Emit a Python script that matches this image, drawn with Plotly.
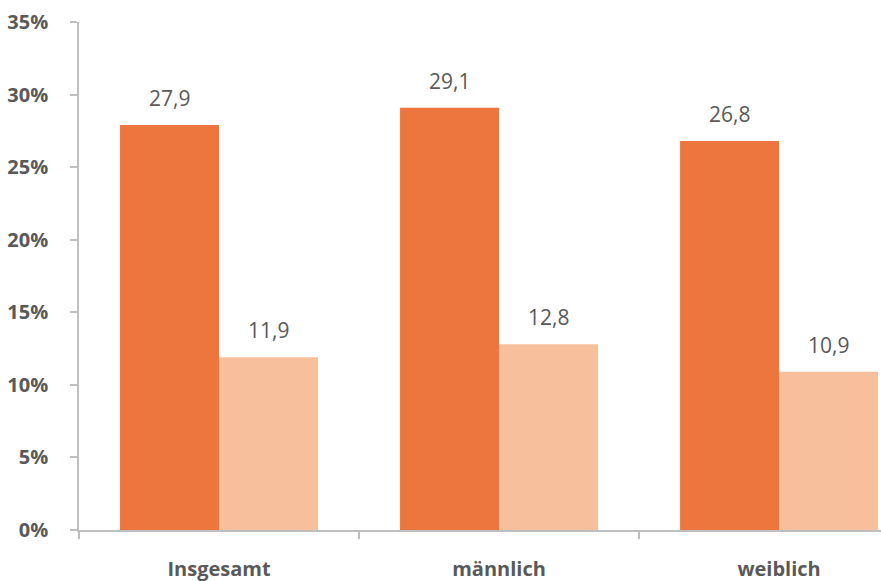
import plotly.graph_objects as go

categories = ["Insgesamt", "männlich", "weiblich"]
series_a = [27.9, 29.1, 26.8]
series_b = [11.9, 12.8, 10.9]
y_ticks = [0, 5, 10, 15, 20, 25, 30, 35]

col_a = "#ED763E"
col_b = "#F8BF9D"
grey = "#595959"
axis_grey = "#BFBFBF"
font_family = "Open Sans, Noto Sans, sans-serif"

fig = go.Figure()
fig.add_trace(go.Bar(x=categories, y=series_a, marker=dict(color=col_a, line=dict(width=0)), name="A"))
fig.add_trace(go.Bar(x=categories, y=series_b, marker=dict(color=col_b, line=dict(width=0)), name="B"))

def fmt(v):
    return f"{v:.1f}".replace(".", ",")

annotations = []
for vals, shift in ((series_a, -49.5), (series_b, 49.5)):
    for c, v in zip(categories, vals):
        annotations.append(dict(
            x=c, y=v, xref="x", yref="y", text=fmt(v), showarrow=False,
            xshift=shift, yshift=11, yanchor="bottom",
            font=dict(family=font_family, size=21, color=grey)))

fig.update_layout(
    width=881, height=581,
    margin=dict(l=79, r=0, t=22, b=51),
    paper_bgcolor="white", plot_bgcolor="white",
    barmode="group", bargap=0.293, bargroupgap=0,
    showlegend=False,
    annotations=annotations,
    font=dict(family=font_family, color=grey),
)
fig.update_xaxes(
    range=[-0.5, 2.364], showline=True, linecolor=axis_grey, linewidth=1.5,
    ticks="outside", tickson="boundaries", ticklen=7, tickcolor=axis_grey, tickwidth=1.5,
    showgrid=False, zeroline=False, ticklabelstandoff=20,
    tickfont=dict(family=font_family, size=20, color=grey, weight="bold"),
)
fig.update_yaxes(
    range=[0, 35], tickvals=y_ticks, ticktext=[f"{t}%" for t in y_ticks],
    showline=True, linecolor=axis_grey, linewidth=1.5,
    ticks="outside", ticklen=7, tickcolor=axis_grey, tickwidth=1.5,
    showgrid=False, zeroline=False, ticklabelstandoff=18,
    tickfont=dict(family=font_family, size=20, color=grey, weight="bold"),
)

fig.write_html("out.html")
